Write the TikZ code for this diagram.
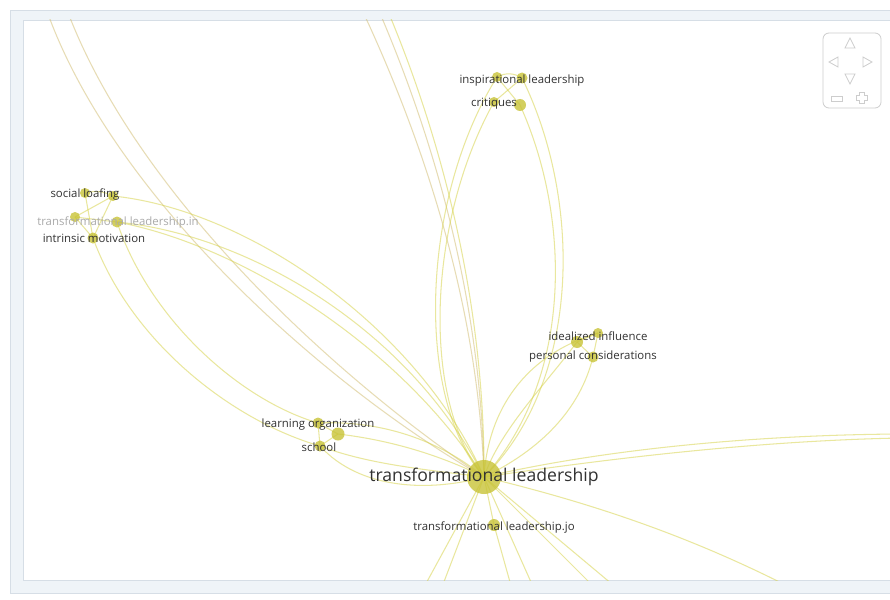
\documentclass[tikz,border=0pt]{standalone}
\usepackage{fontspec}
\setmainfont{Open Sans}
\definecolor{edgec}{RGB}{214,210,70}
\definecolor{tanc}{RGB}{212,192,120}
\definecolor{dotc}{RGB}{200,195,55}
\definecolor{lblc}{RGB}{50,50,50}
\definecolor{panelc}{RGB}{239,244,248}
\definecolor{panelb}{RGB}{214,222,230}
\definecolor{ctrlc}{RGB}{205,205,205}
\begin{document}
\begin{tikzpicture}[x=1pt,y=-1pt,
  edge/.style={draw=edgec, line width=1.05pt, opacity=0.52},
  tanedge/.style={draw=tanc, line width=1.05pt, opacity=0.55},
  dot/.style={circle, inner sep=0pt, minimum size=#1},
  lbl/.style={text=lblc, font=\fontsize{11.4}{13}\selectfont, inner sep=0pt},
  biglbl/.style={text=lblc, font=\fontsize{17.6}{20}\selectfont, inner sep=0pt},
  ctrl/.style={draw=ctrlc, line width=0.8pt}]
\useasboundingbox (0,0) rectangle (890,599);
\fill[white] (0,0) rectangle (890,599);
\filldraw[fill=panelc, draw=panelb, line width=0.6pt] (10,10) rectangle (895,593);
\filldraw[fill=white, draw=panelb, line width=0.8pt] (23,20) rectangle (895,580);

% nodes (dots)
\node[dot=34] (tl) at (484,477) {};
\node[dot=12] (jo) at (494,525) {};
\node[dot=11] (lo) at (318,423) {};
\node[dot=13] (lo2) at (338,434) {};
\node[dot=11] (sc) at (320,446) {};
\node[dot=10] (sl1) at (85,193) {};
\node[dot=10] (sl2) at (113,196) {};
\node[dot=10] (in1) at (75,217) {};
\node[dot=11] (in2) at (117,222) {};
\node[dot=11] (im) at (93,238) {};
\node[dot=10] (ip1) at (497,77) {};
\node[dot=11] (ip2) at (522,78) {};
\node[dot=10] (cr1) at (494,102) {};
\node[dot=12] (cr2) at (520,105) {};
\node[dot=12] (id1) at (577,342) {};
\node[dot=10] (id2) at (598,333) {};
\node[dot=11] (pc) at (593,357) {};

\coordinate (a1) at (40,-10);
\coordinate (a2) at (60,-10);
\coordinate (b1) at (355,-5);
\coordinate (b2) at (372,-5);
\coordinate (b3) at (381,-5);
\coordinate (r1) at (900,434);
\coordinate (r2) at (900,438);
\coordinate (r3) at (805,595);
\coordinate (d1) at (417,600);
\coordinate (d2) at (437,600);
\coordinate (d3) at (515,600);
\coordinate (d4) at (539,600);
\coordinate (d5) at (607,600);
\coordinate (d6) at (631,600);

\begin{scope}
\clip (23,20) rectangle (890,580);
% top-left pair
\draw[tanedge] (a1) .. controls (100,190) and (330,390) .. (tl.center);
\draw[tanedge] (a2) .. controls (125,190) and (345,385) .. (tl.center);
% top-centre three
\draw[tanedge] (b1) .. controls (420,130) and (478,300) .. (tl.center);
\draw[tanedge] (b2) .. controls (432,130) and (482,300) .. (tl.center);
\draw[edge] (b3) .. controls (440,130) and (485,300) .. (tl.center);
% inspirational cluster
\draw[edge] (ip1.center) .. controls (420,200) and (415,400) .. (tl.center);
\draw[edge] (cr1.center) .. controls (428,220) and (420,400) .. (tl.center);
\draw[edge] (ip2.center) .. controls (582,200) and (582,380) .. (tl.center);
\draw[edge] (cr2.center) .. controls (572,220) and (572,380) .. (tl.center);
\draw[edge] (ip1.center) -- (cr2.center);
\draw[edge] (ip2.center) -- (cr1.center);
\draw[edge] (ip1.center) to[bend left=30] (ip2.center);
% idealized cluster
\draw[edge] (id1.center) .. controls (545,385) and (500,430) .. (tl.center);
\draw[edge] (id2.center) .. controls (525,355) and (488,410) .. (tl.center);
\draw[edge] (pc.center) .. controls (580,410) and (540,450) .. (tl.center);
\draw[edge] (id1.center) -- (id2.center);
\draw[edge] (id2.center) -- (pc.center);
\draw[edge] (id1.center) -- (pc.center);
% right and bottom
\draw[edge] (tl.center) .. controls (600,450) and (750,435) .. (r1);
\draw[edge] (tl.center) .. controls (600,460) and (750,441) .. (r2);
\draw[edge] (tl.center) .. controls (600,505) and (700,540) .. (r3);
\draw[edge] (tl.center) -- (d1);
\draw[edge] (tl.center) -- (d2);
\draw[edge] (tl.center) -- (jo.center) -- (d3);
\draw[edge] (tl.center) -- (d4);
\draw[edge] (tl.center) -- (d5);
\draw[edge] (tl.center) -- (d6);
% learning organization / school
\draw[edge] (lo2.center) .. controls (390,440) and (440,455) .. (tl.center);
\draw[edge] (lo.center) .. controls (380,420) and (440,440) .. (tl.center);
\draw[edge] (sc.center) .. controls (370,465) and (430,470) .. (tl.center);
\draw[edge] (sc.center) .. controls (360,490) and (430,492) .. (tl.center);
\draw[edge] (lo.center) -- (lo2.center);
\draw[edge] (lo2.center) -- (sc.center);
\draw[edge] (lo.center) -- (sc.center);
% social loafing cluster
\draw[edge] (sl2.center) .. controls (250,210) and (420,330) .. (tl.center);
\draw[edge] (in2.center) .. controls (250,235) and (410,330) .. (tl.center);
\draw[edge] (in2.center) .. controls (240,245) and (400,345) .. (tl.center);
\draw[edge] (im.center) .. controls (130,340) and (230,420) .. (sc.center);
\draw[edge] (in2.center) .. controls (150,320) and (240,400) .. (lo.center);
\draw[edge] (sl1.center) to[bend left=20] (sl2.center);
\draw[edge] (sl1.center) -- (im.center);
\draw[edge] (sl2.center) -- (in1.center);
\draw[edge] (in1.center) -- (in2.center);
\draw[edge] (sl2.center) -- (im.center);
\draw[edge] (in1.center) -- (im.center);
\end{scope}

% dots drawn on top of edges
\foreach \n/\s in {tl/34,jo/12,lo/11,lo2/13,sc/11,sl1/10,sl2/10,in1/10,in2/11,im/11,ip1/10,ip2/11,cr1/10,cr2/12,id1/12,id2/10,pc/11}
  \fill[dotc, opacity=0.8] (\n.center) circle ({\s/2});

% labels
\node[lbl] (Lip) at (522,81) {inspirational leadership};
\node[lbl] (Lcr) at (494,104) {critiques};
\node[lbl] (Lid) at (598,336) {idealized influence};
\node[lbl] (Lpc) at (593,357) {personal considerations};
\node[lbl] (Lsl) at (85,195) {social loafing};
\node[lbl, text={rgb,255:red,170;green,170;blue,170}] (Lin) at (118,223) {transformational leadership.in};
\node[lbl] (Lim) at (94,238) {intrinsic motivation};
\node[lbl] (Llo) at (318,425) {learning organization};
\node[lbl] (Lsc) at (319,447) {school};
\node[biglbl] (Ltl) at (484,477) {transformational leadership};
\node[lbl] (Ljo) at (494,527) {transformational leadership.jo};

% navigation control
\draw[ctrl, rounded corners=6pt] (823,33) rectangle (881,108);
\draw[ctrl] (850,38) -- (855,48) -- (845,48) -- cycle;
\draw[ctrl] (829,62) -- (838,57) -- (838,67) -- cycle;
\draw[ctrl] (872,62) -- (863,57) -- (863,67) -- cycle;
\draw[ctrl] (850,84) -- (845,74) -- (855,74) -- cycle;
\draw[ctrl] (831,96) rectangle (842,101);
\draw[ctrl] (859,92) -- (864,92) -- (864,95) -- (867,95) -- (867,100) -- (864,100) -- (864,103) -- (859,103) -- (859,100) -- (856,100) -- (856,95) -- (859,95) -- cycle;
\end{tikzpicture}
\end{document}
